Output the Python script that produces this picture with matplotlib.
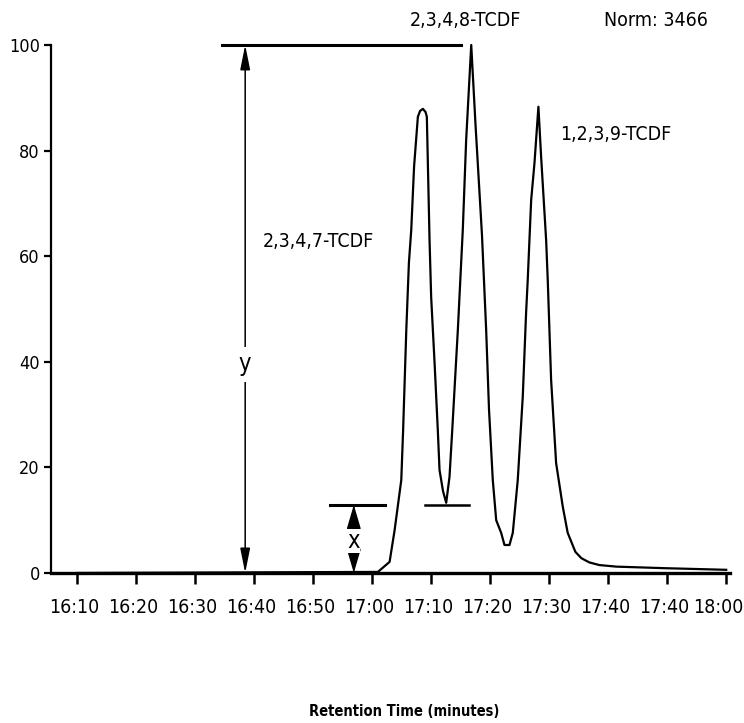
import matplotlib
matplotlib.use("Agg")
import matplotlib.pyplot as plt
from matplotlib import font_manager as fm
from matplotlib.transforms import ScaledTranslation

# Retention time in minutes after 16:00, detector response normalised to 100
zeit = [10.0, 60.98, 62.96, 63.81, 64.94, 65.25, 65.79, 66.23, 66.63, 67.11,
        67.75, 68.12, 68.60, 69.05, 69.27, 69.73, 70.00, 70.58, 71.13, 71.42,
        72.01, 72.55, 73.11, 73.57, 74.52, 75.36, 75.93, 76.79, 77.51, 78.61,
        79.32, 79.80, 80.44, 81.02, 81.86, 82.42, 83.27, 83.83, 84.67, 85.52,
        86.08, 86.36, 86.94, 87.50, 88.17, 88.63, 89.48, 89.75, 90.32, 91.17,
        92.29, 93.13, 94.43, 95.45, 96.80, 98.49, 101.37, 109.83, 119.98]
odziv = [0.0, 0.2, 2.1, 8.1, 17.6, 27.0, 46.0, 58.7, 65.0, 77.0,
         86.4, 87.5, 87.9, 87.3, 86.4, 63.0, 52.3, 39.8, 27.0, 19.5,
         15.5, 13.3, 18.2, 27.0, 46.0, 65.0, 82.0, 100.0, 85.0, 64.0,
         46.0, 31.0, 17.6, 10.0, 7.6, 5.3, 5.3, 7.6, 17.6, 33.4,
         49.2, 55.5, 70.6, 77.6, 88.3, 78.8, 63.0, 55.5, 36.6, 20.8,
         12.6, 7.6, 4.0, 2.8, 2.0, 1.5, 1.2, 0.9, 0.6]

tick_pos = [10, 20, 30, 40, 50, 60, 70, 80, 90, 100, 110, 120]
tick_lab = ["16:10", "16:20", "16:30", "16:40", "16:50", "17:00",
            "17:10", "17:20", "17:30", "17:40", "17:40", "18:00"]
y_ticks = [0, 20, 40, 60, 80, 100]

# oznake vrhova
vrhovi = ["2,3,4,7-TCDF", "2,3,4,8-TCDF", "1,2,3,9-TCDF"]
norm_txt = "Norm: 3466"

# visine y i x (dolina)
y_vis = 100
x_vis = 12.9

# uski font ako postoji
imena = {f.name for f in fm.fontManager.ttflist}
if "Liberation Sans Narrow" in imena:
    plt.rcParams["font.family"] = ["Liberation Sans Narrow", "DejaVu Sans"]
    fs = 16
elif len([f for f in fm.fontManager.ttflist if f.name == "DejaVu Sans" and f.stretch == "condensed"]) > 0:
    plt.rcParams["font.family"] = ["DejaVu Sans"]
    plt.rcParams["font.stretch"] = "condensed"
    fs = 14
else:
    plt.rcParams["font.family"] = ["Liberation Sans", "DejaVu Sans"]
    fs = 13.5

fig = plt.figure(figsize=(7.44, 7.23), dpi=100)
ax = fig.add_axes([0.0685, 0.2075, 0.9125, 0.7303])

ax.plot(zeit, odziv, color="black", lw=1.6, clip_on=False)

ax.set_xlim(5.6, 120.6)
ax.set_ylim(0, 100)
ax.spines["top"].set_visible(False)
ax.spines["right"].set_visible(False)
ax.spines["bottom"].set_linewidth(2.4)
ax.spines["left"].set_linewidth(1.6)

ax.set_xticks(tick_pos)
ax.set_xticklabels(tick_lab)
ax.set_yticks(y_ticks)
ax.tick_params(axis="x", direction="out", length=8, width=1.8, pad=10, labelsize=fs)
ax.tick_params(axis="y", direction="out", length=5, width=1.6, pad=3, labelsize=fs - 1)
pomak = ScaledTranslation(-3 / 100, 0, fig.dpi_scale_trans)
for lab in ax.get_xticklabels():
    lab.set_transform(lab.get_transform() + pomak)
zadnji = ax.get_xticklabels()[-1]
zadnji.set_transform(zadnji.get_transform() + ScaledTranslation(-5 / 100, 0, fig.dpi_scale_trans))

# vodoravne linije
ax.plot([34.5, 75.1], [y_vis, y_vis], color="black", lw=2.2, clip_on=False)
ax.plot([52.8, 62.1], [x_vis, x_vis], color="black", lw=2.2)
ax.plot([69.0, 76.4], [x_vis, x_vis], color="black", lw=1.8)

# strelice
ax.annotate("", xy=(38.5, 0), xytext=(38.5, y_vis),
            arrowprops=dict(arrowstyle="<|-|>,head_length=0.75,head_width=0.15",
                            mutation_scale=20, lw=1.1, color="black",
                            shrinkA=0, shrinkB=0))
ax.text(38.5, 39.5, "y", ha="center", va="center", fontsize=fs + 3,
        bbox=dict(facecolor="white", edgecolor="none", pad=4))

ax.annotate("", xy=(56.9, 0), xytext=(56.9, x_vis),
            arrowprops=dict(arrowstyle="<|-|>,head_length=0.75,head_width=0.22",
                            mutation_scale=20, lw=1.1, color="black",
                            shrinkA=0, shrinkB=0))
ax.text(56.9, 6.0, "x", ha="center", va="center", fontsize=fs + 3,
        bbox=dict(facecolor="white", edgecolor="none", pad=0))

# tekst
ax.text(41.5, 62.7, vrhovi[0], ha="left", va="center", fontsize=fs)
ax.text(75.8, 104.7, vrhovi[1], ha="center", va="center", fontsize=fs, clip_on=False)
ax.text(91.9, 83.0, vrhovi[2], ha="left", va="center", fontsize=fs)
ax.text(108.0, 104.7, norm_txt, ha="center", va="center", fontsize=fs, clip_on=False)

fig.text(0.543, 1 - 712 / 723, "Retention Time (minutes)", ha="center", va="center",
         fontsize=10.5, fontweight="bold")

fig.savefig("out.png", dpi=100)
